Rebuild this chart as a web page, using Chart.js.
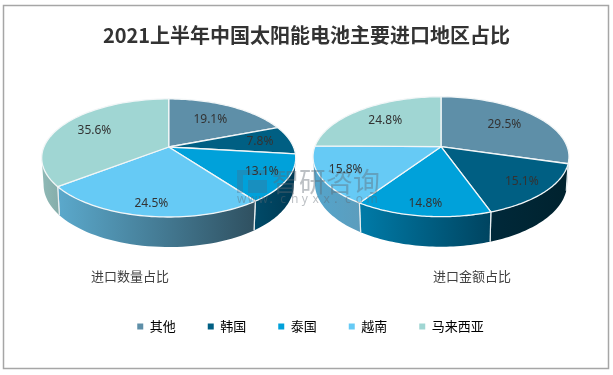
<!DOCTYPE html>
<html>
<head>
<meta charset="utf-8">
<style>
  html, body { margin: 0; padding: 0; background: #fff; }
  canvas { display: block; }
</style>
<script src="https://cdn.jsdelivr.net/npm/chart.js@4"></script>
</head>
<body>
<canvas id="myChart" width="613" height="375"></canvas>
<script>
var chartTitle = "2021上半年中国太阳能电池主要进口地区占比";
var regions = ["其他", "韩国", "泰国", "越南", "马来西亚"];
var quantityShare = [19.1, 7.8, 13.1, 24.5, 35.6];
var amountShare = [29.5, 15.1, 14.8, 15.8, 24.8];
var pieNames = ["进口数量占比", "进口金额占比"];
var sliceColors = ["#5E8FA8", "#005F83", "#00A1DA", "#66CAF5", "#A0D6D3"];

// the two pies are tilted in perspective, Chart.js only gives us the angles
var tilt = [
  { cx: 168.7, cy: 147, b: 124.8, a: 57, k: 0.186, nameX: 130,
    reach: [0.65, 0.75, 0.8, 0.85, 0.7],
    walls: [["#003F5A", "#003F5A"], ["#003F5A", "#003F5A"], ["#004A68", "#003A54"], ["#5BA9CC", "#2F5060"], ["#8FB9B6", "#86AEAB"]] },
  { cx: 441, cy: 146.7, b: 126.2, a: 58.3, k: 0.167, nameX: 472,
    reach: [0.67, 0.8, 0.85, 0.8, 0.68],
    walls: [["#00242F", "#00242F"], ["#00293A", "#00222E"], ["#007BA8", "#004460"], ["#54A5CC", "#5C9DBD"], ["#8FB9B6", "#86AEAB"]] }
];

function topPoint(t, angle, r) {
  var u = Math.cos(angle) * r, v = Math.sin(angle) * r;
  var d = 1 - t.k * v;
  return { x: t.cx + t.b * u / d, y: t.cy + t.a * v / d };
}

function bottomPoint(t, angle) {
  var p = topPoint(t, angle, 1);
  return { x: t.cx + (p.x - t.cx) * 0.985, y: p.y + 26 + 4 * Math.sin(angle) };
}

function drawWall(ctx, t, arc, i) {
  var lo = Math.asin(t.k), hi = Math.PI - lo;
  var start = Math.max(arc.startAngle, lo), end = Math.min(arc.endAngle, hi);
  if (end <= start) return;
  var steps = 40, j, top = [], bottom = [];
  for (j = 0; j <= steps; j++) {
    var ang = start + (end - start) * j / steps;
    top.push(topPoint(t, ang, 1));
    bottom.push(bottomPoint(t, ang));
  }
  var grad = ctx.createLinearGradient(top[steps].x, 0, top[0].x, 0);
  grad.addColorStop(0, t.walls[i][0]);
  grad.addColorStop(1, t.walls[i][1]);
  ctx.beginPath();
  top.forEach(function (q, n) { n ? ctx.lineTo(q.x, q.y) : ctx.moveTo(q.x, q.y); });
  for (j = steps; j >= 0; j--) ctx.lineTo(bottom[j].x, bottom[j].y);
  ctx.closePath();
  ctx.fillStyle = grad;
  ctx.fill();
  // white edge between two wall pieces
  ctx.strokeStyle = "#E8EEF0";
  ctx.lineWidth = 1.2;
  [[arc.startAngle, 0], [arc.endAngle, steps]].forEach(function (e) {
    if (e[0] >= lo && e[0] <= hi) {
      ctx.beginPath();
      ctx.moveTo(top[e[1]].x, top[e[1]].y);
      ctx.lineTo(bottom[e[1]].x, bottom[e[1]].y);
      ctx.stroke();
    }
  });
}

function drawSlice(ctx, t, arc, color) {
  var steps = 60, j;
  ctx.beginPath();
  var c = topPoint(t, 0, 0);
  ctx.moveTo(c.x, c.y);
  for (j = 0; j <= steps; j++) {
    var p = topPoint(t, arc.startAngle + (arc.endAngle - arc.startAngle) * j / steps, 1);
    ctx.lineTo(p.x, p.y);
  }
  ctx.closePath();
  ctx.fillStyle = color;
  ctx.fill();
  ctx.strokeStyle = "#F2F6F7";
  ctx.lineWidth = 1.3;
  ctx.lineJoin = "round";
  ctx.stroke();
}

var frame = {
  id: "frame",
  // legend sits a little right of the page centre in the original
  afterLayout: function (chart) {
    chart.legend.left += 4;
    chart.legend.right += 4;
  },
  beforeDraw: function (chart) {
    var ctx = chart.ctx;
    ctx.save();
    ctx.fillStyle = "#fff";
    ctx.fillRect(0, 0, chart.width, chart.height);
    ctx.strokeStyle = "#A6A6A6";
    ctx.lineWidth = 1.5;
    ctx.strokeRect(3.5, 5.5, 605, 363);
    ctx.restore();
  }
};

var tiltedPies = {
  id: "tiltedPies",
  beforeDatasetsDraw: function (chart) {
    var ctx = chart.ctx;
    ctx.save();
    chart.data.datasets.forEach(function (ds, d) {
      var arcs = chart.getDatasetMeta(d).data, t = tilt[d];
      arcs.forEach(function (arc, i) { drawWall(ctx, t, arc, i); });
      arcs.forEach(function (arc, i) { drawSlice(ctx, t, arc, ds.backgroundColor[i]); });
    });
    ctx.restore();
    return false;
  },
  afterDraw: function (chart) {
    var ctx = chart.ctx;
    ctx.save();

    // faint site mark across the middle
    ctx.textBaseline = "middle";
    ctx.fillStyle = "rgba(95,105,115,0.42)";
    ctx.font = "27px 'Noto Sans CJK SC'";
    ctx.textAlign = "left";
    ctx.fillText("智研咨询", 272, 182);
    ctx.font = "12px 'Noto Sans'";
    "www.chyxx.com".split("").forEach(function (ch, n) {
      ctx.fillText(ch, 237 + n * 10.8, 200);
    });
    ctx.fillStyle = "rgba(70,110,140,0.35)";
    ctx.fillRect(237, 170, 30, 5);
    ctx.fillRect(237, 175, 6, 18);
    ctx.fillRect(248, 180, 19, 13);

    ctx.textAlign = "center";
    chart.data.datasets.forEach(function (ds, d) {
      var t = tilt[d];
      ctx.font = "12px 'Noto Sans'";
      ctx.fillStyle = "#333";
      chart.getDatasetMeta(d).data.forEach(function (arc, i) {
        var p = topPoint(t, (arc.startAngle + arc.endAngle) / 2, t.reach[i]);
        ctx.fillText(ds.data[i].toFixed(1) + "%", p.x, p.y);
      });
      ctx.font = "13px 'Noto Sans CJK SC'";
      ctx.fillStyle = "#404040";
      ctx.fillText(pieNames[d], t.nameX, 276);
    });
    ctx.restore();
  }
};

var ctx = document.getElementById("myChart").getContext("2d");
var chart = new Chart(ctx, {
  type: "pie",
  data: {
    labels: regions,
    datasets: [
      { data: quantityShare, backgroundColor: sliceColors, borderWidth: 0 },
      { data: amountShare, backgroundColor: sliceColors, borderWidth: 0 }
    ]
  },
  options: {
    responsive: false,
    animation: false,
    devicePixelRatio: 1,
    layout: { padding: { top: 23, bottom: 32 } },
    plugins: {
      title: {
        display: true,
        text: chartTitle,
        color: "#333",
        font: { family: "'Noto Sans CJK SC'", size: 20, weight: "bold" },
        padding: 0
      },
      legend: {
        position: "bottom",
        labels: {
          boxWidth: 6,
          boxHeight: 6,
          padding: 32,
          color: "#000",
          font: { family: "'Noto Sans CJK SC'", size: 13 }
        }
      },
      tooltip: { enabled: false }
    }
  },
  plugins: [frame, tiltedPies]
});
</script>
</body>
</html>
